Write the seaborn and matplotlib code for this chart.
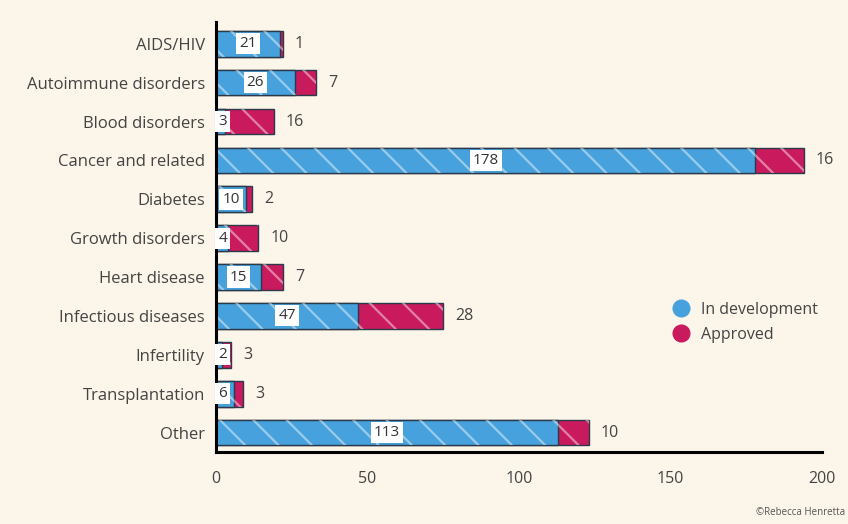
import matplotlib
matplotlib.use("Agg")
import matplotlib.pyplot as plt
from matplotlib.lines import Line2D
import seaborn as sns
import pandas as pd

categories = ["AIDS/HIV", "Autoimmune disorders", "Blood disorders", "Cancer and related",
              "Diabetes", "Growth disorders", "Heart disease", "Infectious diseases",
              "Infertility", "Transplantation", "Other"]
in_development = [21, 26, 3, 178, 10, 4, 15, 47, 2, 6, 113]
approved = [1, 7, 16, 16, 2, 10, 7, 28, 3, 3, 10]
x_ticks = [0, 50, 100, 150, 200]

BG = "#fcf5e9"
BLUE = "#47a1dc"
MAGENTA = "#c81a5c"
EDGE = "#2a3a4a"
TEXT = "#444444"

df = pd.DataFrame({"category": categories, "dev": in_development, "appr": approved})
df["total"] = df["dev"] + df["appr"]

sns.set_theme(style="white")
plt.rcParams["font.family"] = ["Open Sans", "DejaVu Sans"]
plt.rcParams["hatch.linewidth"] = 1.6

fig = plt.figure(figsize=(8.48, 5.24), dpi=100, facecolor=BG)
ax = fig.add_axes([0.2547, 0.1374, 0.7146, 0.8206], facecolor=BG)

# stacked horizontal bars: full length in magenta, development share in blue on top
sns.barplot(data=df, y="category", x="total", color=MAGENTA, orient="h", width=0.66,
            edgecolor=EDGE, linewidth=1.0, saturation=1, ax=ax)
sns.barplot(data=df, y="category", x="dev", color=BLUE, orient="h", width=0.66,
            edgecolor=EDGE, linewidth=1.0, saturation=1, ax=ax)
# light woven texture laid over both segments
sns.barplot(data=df, y="category", x="total", orient="h", width=0.66, fill=False,
            edgecolor=(1, 1, 1, 0.45), linewidth=0, hatch="\\", ax=ax)

for i, (d, a) in enumerate(zip(in_development, approved)):
    ax.text(d / 2 if d > 6 else 2.2, i, str(d), ha="center", va="center",
            fontsize=11, color="#333333", zorder=5,
            bbox=dict(boxstyle="square,pad=0.2", fc="white", ec="none"))
    ax.text(d + a + 4, i, str(a), ha="left", va="center", fontsize=11.5, color=TEXT)

ax.set_xlim(0, 200)
ax.set_ylim(10.5, -0.56)
ax.set_xticks(x_ticks)
ax.set_xticklabels([str(t) for t in x_ticks])
ax.set_xlabel("")
ax.set_ylabel("")
ax.tick_params(axis="y", length=0, pad=8, labelsize=12, labelcolor=TEXT)
ax.tick_params(axis="x", length=8, width=2, color="black", direction="out",
               pad=6, labelsize=11.5, labelcolor=TEXT)
for side in ["top", "right"]:
    ax.spines[side].set_visible(False)
for side in ["left", "bottom"]:
    ax.spines[side].set_color("black")
    ax.spines[side].set_linewidth(2.2)

handles = [
    Line2D([], [], marker="o", linestyle="none", markersize=12,
           markerfacecolor=BLUE, markeredgecolor=BLUE, label="In development"),
    Line2D([], [], marker="o", linestyle="none", markersize=12,
           markerfacecolor=MAGENTA, markeredgecolor=MAGENTA, label="Approved"),
]
ax.legend(handles=handles, loc="center left", bbox_to_anchor=(0.73, 0.302),
          frameon=False, fontsize=11.5, labelcolor=TEXT, handletextpad=0.75,
          labelspacing=0.55, handlelength=1.0)

fig.text(0.997, 0.022, "©Rebecca Henretta", fontsize=7, color="#555555",
         ha="right", va="center")

fig.savefig("out.png", dpi=100, facecolor=BG)
